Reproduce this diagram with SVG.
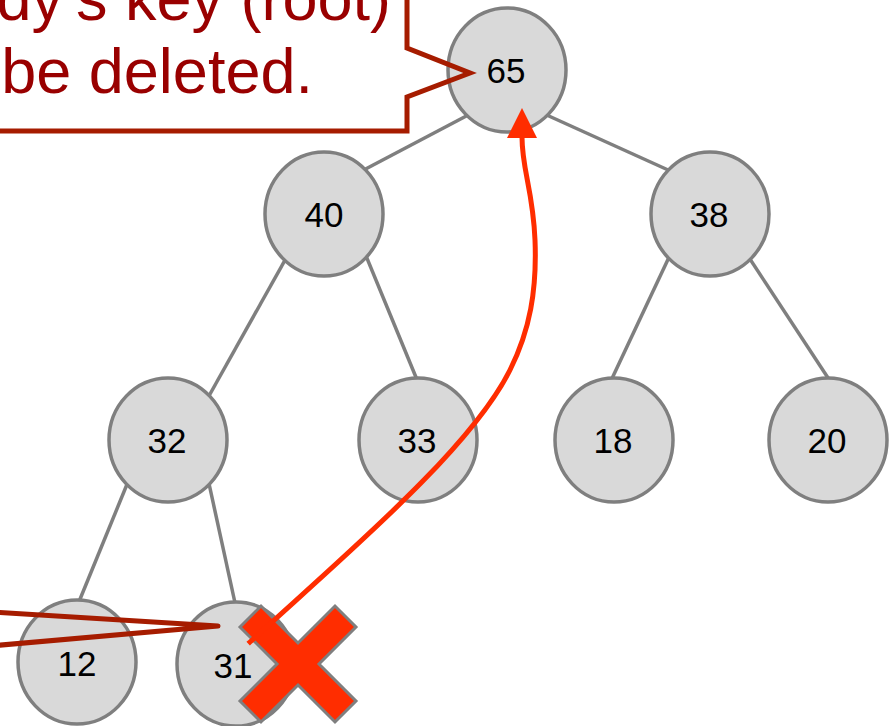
<svg xmlns="http://www.w3.org/2000/svg" width="896" height="726" viewBox="0 0 896 726">
  <style>
    .edge { stroke: #7f7f7f; stroke-width: 3.5; fill: none; }
    .node ellipse { fill: #d9d9d9; stroke: #7f7f7f; stroke-width: 3.5; }
    .node text { font-family: "Liberation Sans", Arial, sans-serif; font-size: 35px; fill: #000; text-anchor: middle; }
    .callout-line { fill: none; stroke: #a61c00; stroke-width: 5; }
    .callout-text { font-family: "Liberation Sans", Arial, sans-serif; font-size: 63px; fill: #990000; text-anchor: end; }
    .move { fill: none; stroke: #ff2d00; stroke-width: 5; stroke-linecap: square; }
  </style>
  <defs>
    <marker id="arrowhead" markerUnits="userSpaceOnUse" markerWidth="32" markerHeight="32" refX="1" refY="15" orient="auto">
      <path d="M0,0 L30,15 L0,30 z" fill="#ff2d00"/>
    </marker>
  </defs>

  <rect width="896" height="726" fill="#ffffff"/>

  <!-- tree edges -->
  <g id="connectors">
    <line class="edge" x1="472" y1="113" x2="358" y2="173"/>
    <line class="edge" x1="540" y1="112" x2="677" y2="174"/>
    <line class="edge" x1="289" y1="253" x2="205" y2="403"/>
    <line class="edge" x1="364" y1="251" x2="420" y2="387"/>
    <line class="edge" x1="671" y1="253" x2="608" y2="387"/>
    <line class="edge" x1="746" y1="253" x2="834" y2="387"/>
    <line class="edge" x1="130" y1="477" x2="76" y2="609"/>
    <line class="edge" x1="208" y1="479" x2="237" y2="612"/>
  </g>

  <!-- heap nodes -->
  <g id="n65" class="node"><ellipse cx="507" cy="70" rx="59" ry="62"/><text x="506" y="83">65</text></g>
  <g id="n40" class="node"><ellipse cx="324" cy="214" rx="59" ry="62"/><text x="324" y="227">40</text></g>
  <g id="n38" class="node"><ellipse cx="710" cy="214" rx="59" ry="62"/><text x="709" y="227">38</text></g>
  <g id="n32" class="node"><ellipse cx="168" cy="440" rx="59" ry="62"/><text x="167" y="453">32</text></g>
  <g id="n33" class="node"><ellipse cx="418" cy="440" rx="59" ry="62"/><text x="417" y="453">33</text></g>
  <g id="n18" class="node"><ellipse cx="614" cy="440" rx="59" ry="62"/><text x="613" y="453">18</text></g>
  <g id="n20" class="node"><ellipse cx="828" cy="440" rx="59" ry="62"/><text x="827" y="453">20</text></g>
  <g id="n12" class="node"><ellipse cx="77" cy="662" rx="59" ry="62"/><text x="77" y="676">12</text></g>
  <g id="n31" class="node"><ellipse cx="236" cy="664" rx="59" ry="62"/><text x="233" y="678">31</text></g>

  <!-- cross over the last node -->
  <g id="cross">
    <polygon points="240,627 261,606 298,643 335,606 356,627 319,664 356,701 335,722 298,685 261,722 240,701 277,664"
             fill="#ff2d00" stroke="#7f7f7f" stroke-width="3" stroke-linejoin="miter"/>
  </g>

  <!-- last element moves up to the root -->
  <g id="move-arrow">
    <path class="move" marker-end="url(#arrowhead)"
          d="M 250 642 C 345 555, 470 450, 510 370 C 530 330, 537 290, 535 240 C 533 190, 522 170, 522 137"/>
  </g>

  <!-- callout pointing at the root -->
  <g id="callout-root">
    <rect x="-10" y="-10" width="417" height="141" fill="#ffffff"/>
    <polyline class="callout-line" points="-10,131 407,131 407,97 470,73 407,48 407,-10"/>
    <text class="callout-text" x="391" y="20">dy’s key (root)</text>
    <text class="callout-text" x="313" y="93">be deleted.</text>
  </g>

  <!-- callout pointing at the last node -->
  <g id="callout-last">
    <polyline class="callout-line" points="-10,612 218,626 -10,646" stroke-linejoin="round" stroke-linecap="round"/>
  </g>
</svg>
